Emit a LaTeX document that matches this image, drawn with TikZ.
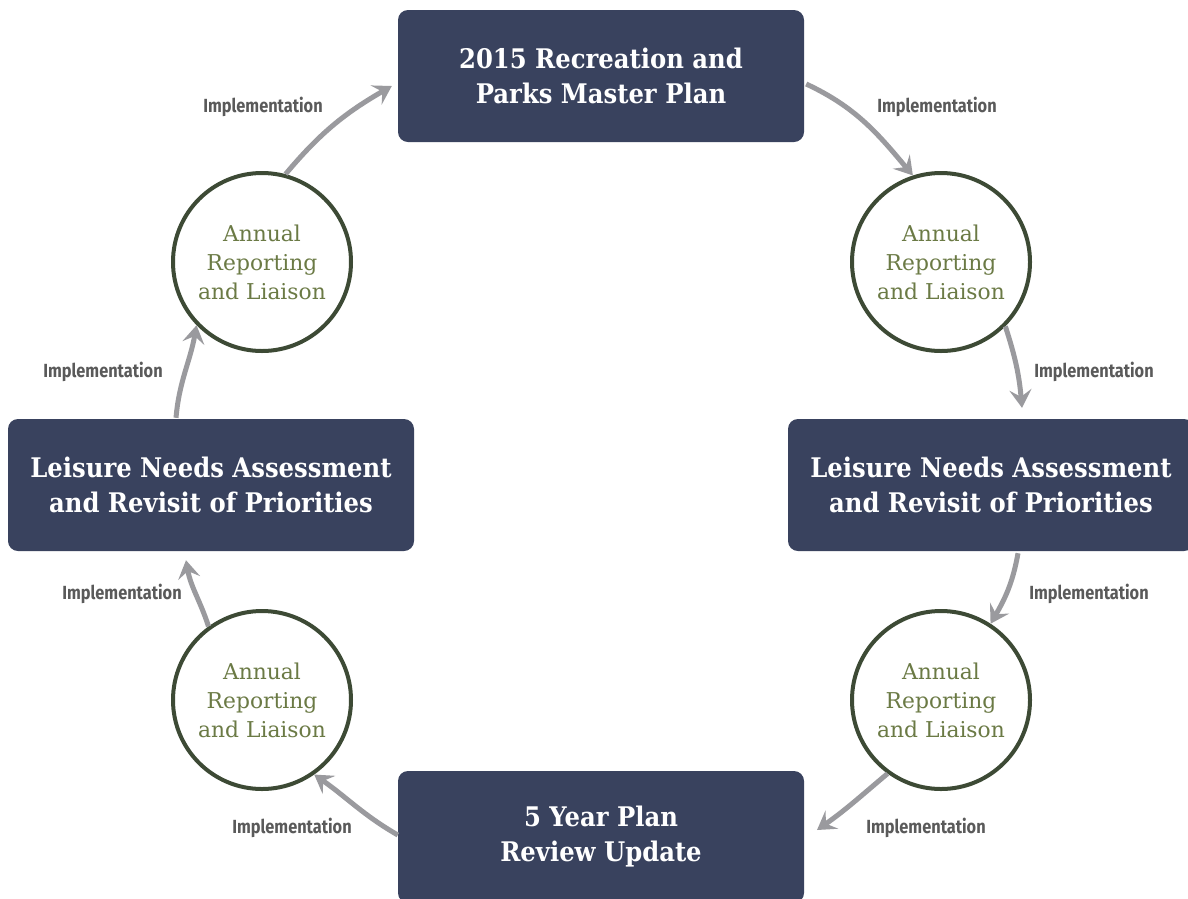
\documentclass[tikz,border=0pt]{standalone}
\usepackage{fontspec}
\setmainfont{DejaVu Serif}
\newfontfamily\boxfont[FakeStretch=0.9]{DejaVu Serif}
\newfontfamily\labfont[FakeStretch=0.86]{Fira Sans}
\usetikzlibrary{arrows.meta}
\definecolor{boxblue}{HTML}{39425E}
\definecolor{ringgreen}{HTML}{3D4A35}
\definecolor{txtgreen}{HTML}{6B7A45}
\definecolor{arrgray}{HTML}{9A9A9E}
\definecolor{labgray}{HTML}{5A5A5A}
\tikzset{
  stagebox/.style={fill=boxblue, rounded corners=10pt, minimum width=406pt, minimum height=132pt,
    text=white, align=center, font=\boxfont\fontsize{27}{35}\selectfont\bfseries, inner sep=0pt},
  ring/.style={circle, draw=ringgreen, line width=4pt, fill=white, minimum size=178pt, inner sep=0pt,
    text=txtgreen, align=center, font=\fontsize{21.8}{29}\selectfont},
  flow/.style={draw=arrgray, line width=5pt, -{Stealth[length=18pt,width=22pt,inset=7pt]}},
  lab/.style={text=labgray, font=\labfont\fontsize{19}{22}\selectfont\bfseries}
}
\begin{document}
\begin{tikzpicture}[x=1pt,y=1pt]
\clip (0,0) rectangle (1188,-898);
\fill[white] (0,0) rectangle (1188,-898);
\node[stagebox] (top) at (601,-76) {2015 Recreation and\\Parks Master Plan};
\node[stagebox] (right) at (991,-485) {Leisure Needs Assessment\\and Revisit of Priorities};
\node[stagebox] (left) at (211,-485) {Leisure Needs Assessment\\and Revisit of Priorities};
\node[stagebox] (bottom) at (601,-837) {5 Year Plan\\Review Update};
\node[ring] (tl) at (262,-262) {Annual\\Reporting\\and Liaison};
\node[ring] (tr) at (941,-262) {Annual\\Reporting\\and Liaison};
\node[ring] (bl) at (262,-700) {Annual\\Reporting\\and Liaison};
\node[ring] (br) at (941,-700) {Annual\\Reporting\\and Liaison};
% arrows
\draw[flow] (tl.75) to[out=50,in=210] ([shift={(-6,-10)}]top.west);
\draw[flow] ([shift={(2,-8)}]top.east) to[out=-25,in=130] (tr.108);
\draw[flow] (tr.-45) to[out=-72,in=95] ([shift={(31,11)}]right.north);
\draw[flow] ([shift={(27,-2)}]right.south) to[out=-100,in=60] (br.57);
\draw[flow] (br.-126) to[out=-140,in=35] ([shift={(216,7)}]bottom.center);
\draw[flow] ([shift={(0,2)}]bottom.west) to[out=150,in=-35] (bl.-55);
\draw[flow] (bl.126) to[out=108,in=-80] ([shift={(-25,-9)}]left.south);
\draw[flow] ([shift={(-35,1)}]left.north) to[out=85,in=-100] (tl.-136);
% labels
\node[lab] (l1) at (263,-107) {Implementation};
\node[lab] (l2) at (937,-107) {Implementation};
\node[lab] (l3) at (1094,-372) {Implementation};
\node[lab] (l4) at (103,-372) {Implementation};
\node[lab] (l5) at (1089,-594) {Implementation};
\node[lab] (l6) at (122,-594) {Implementation};
\node[lab] (l7) at (926,-828) {Implementation};
\node[lab] (l8) at (292,-828) {Implementation};
\end{tikzpicture}
\end{document}
